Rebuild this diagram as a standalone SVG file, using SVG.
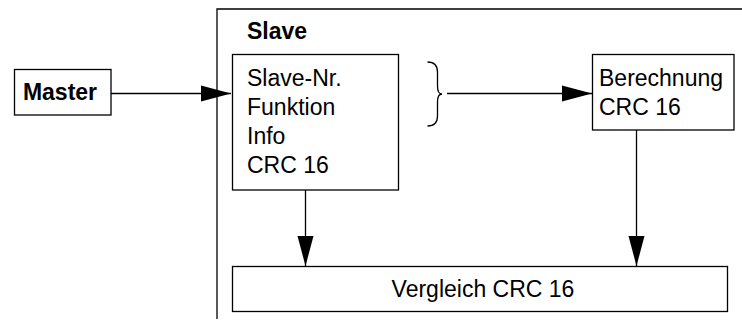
<svg xmlns="http://www.w3.org/2000/svg" width="742" height="322" viewBox="0 0 742 322">
<style>
.box{fill:#fff;stroke:#000;stroke-width:1.3}
.ln{fill:none;stroke:#000;stroke-width:1.3}
.t{font-family:"Liberation Sans",Arial,sans-serif;font-size:23px;fill:#000}
.b{font-weight:bold}
</style>
<defs>
<marker id="ah" markerUnits="userSpaceOnUse" markerWidth="30" markerHeight="18" viewBox="0 0 30 18" refX="30" refY="9" orient="auto">
<path d="M0,1 L30,9 L0,17 Z" fill="#000"/>
</marker>
</defs>
<g id="slave-frame">
<path class="ln" d="M217,319 L217,9 L742,9"/>
<text class="t b" x="247" y="39">Slave</text>
</g>
<g id="master">
<rect class="box" x="14.5" y="69.5" width="96.5" height="45.5"/>
<text class="t b" x="60" y="100" text-anchor="middle">Master</text>
</g>
<g id="slave-data">
<rect class="box" x="232.5" y="54.5" width="166" height="135.5"/>
<text class="t" x="247" y="86">Slave-Nr.</text>
<text class="t" x="247" y="115">Funktion</text>
<text class="t" x="247" y="143.5">Info</text>
<text class="t" x="247" y="172.5">CRC 16</text>
</g>
<g id="berechnung">
<rect class="box" x="592.5" y="54.5" width="141.5" height="75.5"/>
<text class="t" x="599" y="86">Berechnung</text>
<text class="t" x="599" y="115">CRC 16</text>
</g>
<g id="vergleich">
<rect class="box" x="232.5" y="266.5" width="495" height="45"/>
<text class="t" x="483" y="297" text-anchor="middle">Vergleich CRC 16</text>
</g>
<g id="connectors">
<path class="ln" d="M427.5,62 Q437.5,62 437.5,72 L437.5,86 Q437.5,94 442,94 Q437.5,94 437.5,102 L437.5,116 Q437.5,126 427.5,126"/>
<line class="ln" x1="111" y1="93.5" x2="231" y2="93.5" marker-end="url(#ah)"/>
<line class="ln" x1="447" y1="93.5" x2="592" y2="93.5" marker-end="url(#ah)"/>
<line class="ln" x1="305.5" y1="190" x2="305.5" y2="266" marker-end="url(#ah)"/>
<line class="ln" x1="636.5" y1="130" x2="636.5" y2="266" marker-end="url(#ah)"/>
</g>
</svg>
